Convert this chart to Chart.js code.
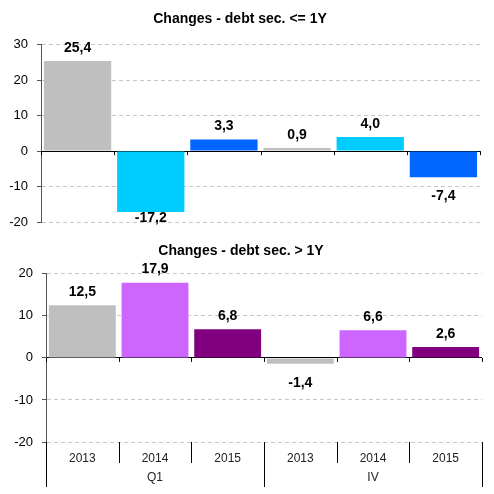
<!DOCTYPE html>
<html>
<head>
<meta charset="utf-8">
<script src="https://cdn.jsdelivr.net/npm/chart.js@4"></script>
<style>
  body { margin: 0; background: #fff; }
  canvas { display: block; }
</style>
</head>
<body>
<canvas id="topChart" width="494" height="232"></canvas>
<canvas id="bottomChart" width="494" height="262"></canvas>
<script>
// Dati
const categories = ['2013', '2014', '2015', '2013', '2014', '2015'];
const groups = ['Q1', 'IV'];
const shortTermValues = [25.4, -17.2, 3.3, 0.9, 4.0, -7.4];
const longTermValues = [12.5, 17.9, 6.8, -1.4, 6.6, 2.6];
const shortTermTicks = { min: -20, max: 30, step: 10 };
const longTermTicks = { min: -20, max: 20, step: 10 };

// Colori
const shortTermColors = ['#BFBFBF', '#00CCFF', '#0066FF', '#BFBFBF', '#00CCFF', '#0066FF'];
const longTermColors = ['#BFBFBF', '#CC66FF', '#800080', '#BFBFBF', '#CC66FF', '#800080'];

Chart.defaults.font.family = 'Arial, "Liberation Sans", sans-serif';
Chart.defaults.color = '#000';

// Etichette dei valori sopra/sotto le barre
const valueLabels = {
    id: 'valueLabels',
    afterDatasetsDraw(chart) {
        const { ctx, chartArea } = chart;
        const meta = chart.getDatasetMeta(0);
        const values = chart.data.datasets[0].data;
        ctx.save();
        ctx.font = 'bold 14px Arial, "Liberation Sans", sans-serif';
        ctx.fillStyle = '#000';
        ctx.textAlign = 'center';
        ctx.textBaseline = 'middle';
        meta.data.forEach((bar, i) => {
            const v = values[i];
            let y = v >= 0 ? bar.y - 13 : bar.y + 19;
            y = Math.min(y, chartArea.bottom - 4);
            ctx.fillText(v.toFixed(1).replace('.', ','), bar.x, y);
        });
        // piccoli segni sull'asse dello zero
        const xs = chart.scales.x;
        const zeroY = chart.scales.y.getPixelForValue(0);
        const half = (xs.getPixelForTick(1) - xs.getPixelForTick(0)) / 2;
        ctx.strokeStyle = '#000';
        ctx.lineWidth = 1;
        ctx.beginPath();
        for (let i = 0; i <= categories.length; i++) {
            const x = Math.round(xs.getPixelForTick(0) - half + i * half * 2) + 0.5;
            ctx.moveTo(x, zeroY);
            ctx.lineTo(x, zeroY + 4);
        }
        ctx.stroke();
        ctx.restore();
    }
};

// Separatori e gruppi sotto l'asse x
const groupAxis = {
    id: 'groupAxis',
    afterDraw(chart) {
        const { ctx, chartArea } = chart;
        const xs = chart.scales.x;
        const half = (xs.getPixelForTick(1) - xs.getPixelForTick(0)) / 2;
        const perGroup = categories.length / groups.length;
        ctx.save();
        ctx.strokeStyle = '#000';
        ctx.lineWidth = 1;
        ctx.beginPath();
        for (let i = 0; i <= categories.length; i++) {
            const x = Math.round(xs.getPixelForTick(0) - half + i * half * 2) + 0.5;
            const long = i % perGroup === 0;
            ctx.moveTo(x, chartArea.bottom);
            ctx.lineTo(x, chartArea.bottom + (long ? 45 : 21));
        }
        ctx.stroke();
        ctx.font = '12px Arial, "Liberation Sans", sans-serif';
        ctx.fillStyle = '#222';
        ctx.textAlign = 'center';
        ctx.textBaseline = 'middle';
        groups.forEach((g, gi) => {
            const a = xs.getPixelForTick(gi * perGroup);
            const b = xs.getPixelForTick(gi * perGroup + perGroup - 1);
            ctx.fillText(g, (a + b) / 2, chartArea.bottom + 36);
        });
        ctx.restore();
    }
};

function yScale(ticks, width) {
    return {
        min: ticks.min,
        max: ticks.max,
        afterFit: (scale) => {
            scale.width = width;
            scale.paddingTop = 0;
            scale.paddingBottom = 0;
        },
        ticks: { stepSize: ticks.step, padding: 9, font: { size: 13 }, color: '#000' },
        grid: {
            color: (c) => (c.tick && c.tick.value === 0 ? '#000' : '#C8C8C8'),
            tickColor: '#555',
            tickLength: 4,
            tickBorderDash: []
        },
        border: {
            display: true,
            color: '#555',
            dash: (c) => (c.tick && c.tick.value === 0 ? [] : [4, 3])
        }
    };
}

function makeChart(canvasId, title, values, colors, ticks, yWidth, showX, plugins) {
    return new Chart(document.getElementById(canvasId).getContext('2d'), {
        type: 'bar',
        data: {
            labels: categories,
            datasets: [{
                data: values,
                backgroundColor: colors,
                barPercentage: 0.92,
                categoryPercentage: 1
            }]
        },
        options: {
            responsive: false,
            animation: false,
            devicePixelRatio: 1,
            layout: { padding: { top: 8, right: showX ? 12 : 14, bottom: showX ? 0 : 10, left: 0 } },
            plugins: {
                legend: { display: false },
                tooltip: { enabled: false },
                title: {
                    display: true,
                    text: title,
                    color: '#000',
                    font: { size: 14, weight: 'bold' },
                    padding: { top: 3, bottom: showX ? 14 : 17 }
                }
            },
            scales: {
                x: {
                    display: showX,
                    afterFit: (scale) => { if (showX) scale.height = 52; },
                    ticks: { padding: 9, font: { size: 12 }, color: '#222', maxRotation: 0 },
                    grid: { display: false, drawTicks: false },
                    border: { display: false }
                },
                y: yScale(ticks, yWidth)
            }
        },
        plugins: plugins
    });
}

makeChart('topChart', 'Changes - debt sec. <= 1Y', shortTermValues, shortTermColors,
    shortTermTicks, 41, false, [valueLabels]);
makeChart('bottomChart', 'Changes - debt sec. > 1Y', longTermValues, longTermColors,
    longTermTicks, 46, true, [valueLabels, groupAxis]);
</script>
</body>
</html>
